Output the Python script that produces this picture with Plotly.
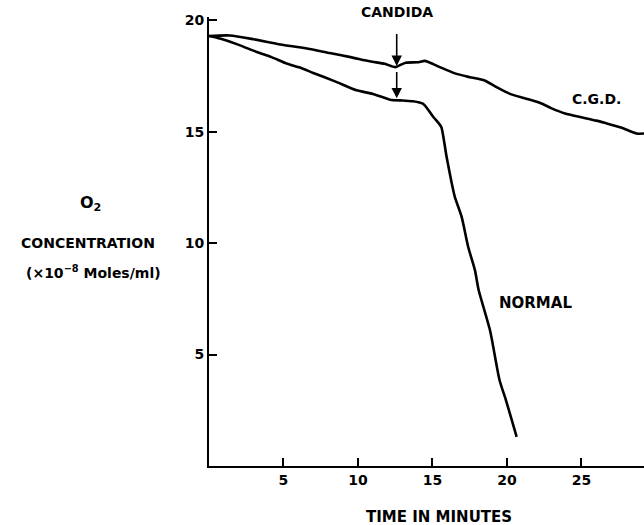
import plotly.graph_objects as go

# Time (minutes) and O2 concentration (x10^-8 moles/ml)
cgd_time = [0.0, 1.4, 3.0, 4.8, 6.5, 8.1, 9.5, 10.8, 11.8, 12.5, 13.2, 14.0, 14.5, 15.0, 15.5,
            16.5, 17.5, 18.5, 19.3, 20.2, 21.2, 22.2, 23.0, 23.9, 25.0, 26.0, 26.7, 27.7, 28.7, 29.2]
cgd_o2 = [19.30, 19.32, 19.15, 18.92, 18.75, 18.53, 18.35, 18.16, 18.05, 17.90, 18.10, 18.12, 18.18, 18.05, 17.90,
          17.62, 17.45, 17.30, 17.00, 16.70, 16.50, 16.30, 16.05, 15.82, 15.65, 15.50, 15.37, 15.18, 14.92, 14.92]

normal_time = [0.0, 0.74, 2.0, 3.2, 4.2, 5.2, 6.1, 7.0, 8.5, 9.9, 11.0, 12.15, 13.0, 13.7, 14.36,
               14.7, 15.06, 15.4, 15.6, 15.95, 16.3, 16.5, 16.96, 17.4, 17.85, 18.1, 18.86, 19.5, 19.93, 20.65]
normal_o2 = [19.30, 19.18, 18.90, 18.58, 18.35, 18.06, 17.88, 17.64, 17.25, 16.86, 16.70, 16.44, 16.40, 16.37, 16.26,
             16.00, 15.66, 15.40, 15.20, 13.87, 12.67, 12.08, 11.18, 9.83, 8.79, 7.90, 6.10, 3.86, 2.96, 1.31]

candida_time = 12.6
x_ticks = [5, 10, 15, 20, 25]
y_ticks = [5, 10, 15, 20]

FONT = "DejaVu Sans"
fig = go.Figure()
for t, v in [(cgd_time, cgd_o2), (normal_time, normal_o2)]:
    fig.add_trace(go.Scatter(x=t, y=v, mode="lines", line=dict(color="black", width=2.6, shape="spline", smoothing=0.6),
                             hoverinfo="skip", showlegend=False))

# arrows marking Candida addition
fig.add_annotation(x=candida_time, y=17.95, ax=candida_time, ay=19.45, xref="x", yref="y", axref="x", ayref="y",
                   showarrow=True, arrowhead=2, arrowsize=1.3, arrowwidth=1.6, arrowcolor="black", text="")
fig.add_annotation(x=candida_time, y=16.5, ax=candida_time, ay=17.75, xref="x", yref="y", axref="x", ayref="y",
                   showarrow=True, arrowhead=2, arrowsize=1.3, arrowwidth=1.6, arrowcolor="black", text="")

def f(size):
    return dict(family=FONT, size=size, color="black", weight="bold")

fig.add_annotation(x=26.0, y=16.45, xref="x", yref="y", text="C.G.D.", showarrow=False, font=f(14))
fig.add_annotation(x=21.9, y=7.3, xref="x", yref="y", text="NORMAL", showarrow=False, font=f(15))

# texts placed by pixel position (converted to paper coords below)
fig.add_annotation(x=397, y=12, xref="paper", yref="paper", text="CANDIDA", showarrow=False, font=f(14))
fig.add_annotation(x=90, y=203, xref="paper", yref="paper", text="O<sub>2</sub>", showarrow=False, font=f(16))
fig.add_annotation(x=88, y=243, xref="paper", yref="paper", text="CONCENTRATION", showarrow=False, font=f(14))
fig.add_annotation(x=93, y=272, xref="paper", yref="paper", text="(×10<sup>−8</sup> Moles/ml)", showarrow=False,
                   font=f(14))
fig.add_annotation(x=439, y=517, xref="paper", yref="paper", text="TIME IN MINUTES", showarrow=False, font=f(15))

L, R, T, B = 209, 0, 17, 59
W, H = 644, 525
pw, ph = W - L - R, H - T - B
for a in fig.layout.annotations:
    if a.xref == "paper":
        a.x = (a.x - L) / pw
        a.y = 1 - (a.y - T) / ph
        a.xanchor = "center"
        a.yanchor = "middle"

tf = f(14)
fig.update_layout(
    width=W, height=H, margin=dict(l=L, r=R, t=T, b=B),
    paper_bgcolor="white", plot_bgcolor="white",
    xaxis=dict(range=[0, 29.2], tickvals=x_ticks, ticks="inside", ticklen=8, tickwidth=1.5, tickcolor="black",
               showline=True, linecolor="black", linewidth=2, showgrid=False, zeroline=False, tickfont=tf),
    yaxis=dict(range=[0, 20.15], tickvals=y_ticks, ticks="inside", ticklen=8, tickwidth=1.5, tickcolor="black",
               showline=True, linecolor="black", linewidth=2, showgrid=False, zeroline=False, tickfont=tf),
)

fig.write_html("out.html", config={"displayModeBar": False})

# remove default page margin so the figure sits at the window's top-left corner
with open("out.html", encoding="utf-8") as fh:
    html = fh.read()
html = html.replace("<head>", "<head><style>html,body{margin:0;padding:0;overflow:hidden;}</style>", 1)
with open("out.html", "w", encoding="utf-8") as fh:
    fh.write(html)
